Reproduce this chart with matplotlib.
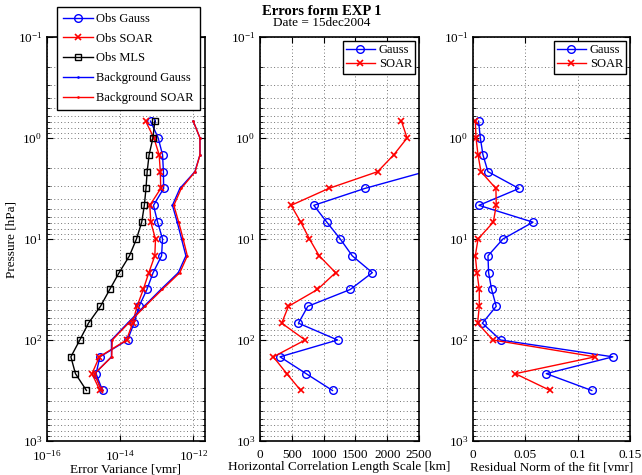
import numpy as np
import matplotlib
matplotlib.use("Agg")
import matplotlib.pyplot as plt
from matplotlib.ticker import FixedLocator, FuncFormatter, LogLocator, NullLocator

plt.rcParams['font.family'] = ['Liberation Serif', 'DejaVu Serif']
plt.rcParams['mathtext.fontset'] = 'stix'
plt.rcParams['font.size'] = 9

# Pressure levels [hPa]
pressure = [0.681, 1.0, 1.468, 2.154, 3.162, 4.642, 6.813, 10.0, 14.68, 21.54,
            31.62, 46.42, 68.13, 100.0, 146.8, 215.4, 316.2]

# Panel 1: error variance [vmr]
obs_gauss = [6.8e-14, 1.1e-13, 1.45e-13, 1.53e-13, 1.55e-13, 8.2e-14, 1.06e-13, 1.45e-13,
             1.36e-13, 8.0e-14, 5.4e-14, 3.3e-14, 2.4e-14, 1.6e-14, 2.8e-15, 2.2e-15, 3.3e-15]
obs_soar = [5.0e-14, 8.4e-14, 1.17e-13, 1.26e-13, 1.29e-13, 6.5e-14, 6.9e-14, 9.3e-14,
            8.9e-14, 6.1e-14, 4.3e-14, 2.9e-14, 2.2e-14, 1.5e-14, 2.7e-15, 1.7e-15, 2.8e-15]
obs_mls = [8.9e-14, 7.9e-14, 6.2e-14, 5.5e-14, 5.1e-14, 4.6e-14, 3.9e-14, 2.8e-14,
           1.8e-14, 9.4e-15, 5.2e-15, 2.9e-15, 1.36e-15, 7.9e-16, 4.5e-16, 6.0e-16, 1.2e-15]
bg_gauss = [1.0e-12, 1.53e-12, 1.53e-12, 1.11e-12, 4.3e-13, 2.7e-13, 3.65e-13, 4.8e-13,
            6.3e-13, 3.9e-13, 1.3e-13, 4.5e-14, 1.6e-14, 5.8e-15, 5.8e-15, 2.0e-15, 3.1e-15]
bg_soar = [1.0e-12, 1.53e-12, 1.53e-12, 1.13e-12, 4.7e-13, 2.95e-13, 4.0e-13, 5.3e-13,
           6.9e-13, 4.3e-13, 1.42e-13, 4.8e-14, 1.7e-14, 6.1e-15, 5.9e-15, 2.0e-15, 3.1e-15]

# Panel 2: horizontal correlation length scale [km]
hcl_gauss = [np.nan, np.nan, np.nan, 2600, 1645, 846, 1051, 1262, 1451, 1766, 1419,
             752, 604, 1219, 315, 725, 1140]
hcl_soar = [2224, 2313, 2103, 1850, 1078, 489, 641, 778, 931, 1188, 904,
            447, 341, 710, 210, 421, 641]

# Panel 3: residual norm of the fit [vmr]
res_gauss = [0.0053, 0.0070, 0.0095, 0.0143, 0.0439, 0.0057, 0.0573, 0.0286, 0.0143,
             0.0149, 0.0178, 0.0222, 0.0089, 0.0263, 0.1336, 0.0700, 0.1135]
res_soar = [0.0022, 0.0029, 0.0048, 0.0076, 0.0219, 0.0222, 0.0194, 0.0048, 0.0022,
            0.0038, 0.0060, 0.0060, 0.0044, 0.0191, 0.1167, 0.0404, 0.0738]

fig = plt.figure(figsize=(6.42, 4.75), dpi=100)
H = 475.0
W = 642.0
bottom = (H - 441) / H
height = 404 / H
ax1 = fig.add_axes([47 / W, bottom, 158 / W, height])
ax2 = fig.add_axes([260 / W, bottom, 159 / W, height])
ax3 = fig.add_axes([473 / W, bottom, 157 / W, height])

lw = 1.0
ms = 5.5
GRID = dict(linestyle=(0, (1, 2.5)), color='0.45', linewidth=0.7)

def style(ax):
    ax.set_yscale('log')
    ax.set_ylim(1000, 0.1)
    ax.yaxis.set_major_locator(FixedLocator([0.1, 1, 10, 100, 1000]))
    ax.yaxis.set_minor_locator(LogLocator(base=10, subs=np.arange(2, 10)))
    ax.tick_params(which='both', direction='in', top=True, right=True, labelsize=9.5)
    ax.tick_params(axis='x', pad=6)
    ax.tick_params(which='major', length=4)
    ax.tick_params(which='minor', length=2)
    ax.grid(True, which='major', axis='both', **GRID)
    ax.grid(True, which='minor', axis='y', **GRID)
    for s in ax.spines.values():
        s.set_linewidth(1.2)
    ax.set_axisbelow(True)

LEG = dict(fancybox=False, edgecolor='black', framealpha=1, fontsize=9,
           handlelength=2.35, handletextpad=0.3)

# Panel 1
ax1.plot(obs_gauss, pressure, '-o', color='blue', mfc='none', ms=ms, lw=lw, label='Obs Gauss')
ax1.plot(obs_soar, pressure, '-x', color='red', ms=ms - 1, lw=lw, mew=1.2, label='Obs SOAR')
ax1.plot(obs_mls, pressure, '-s', color='black', mfc='none', ms=ms - 0.5, lw=lw, label='Obs MLS')
ax1.plot(bg_gauss, pressure, marker='.', color='blue', ms=1.8, lw=lw, linestyle='-', label='Background Gauss')
ax1.plot(bg_soar, pressure, marker='.', color='red', ms=1.8, lw=lw, linestyle='-', label='Background SOAR')
ax1.set_xscale('log')
style(ax1)
ax1.set_xlim(1e-16, 2.1e-12)
ax1.xaxis.set_major_locator(FixedLocator([1e-16, 1e-14, 1e-12]))
ax1.xaxis.set_minor_locator(NullLocator())
ax1.set_xlabel('Error Variance [vmr]', fontsize=9.5, labelpad=0)
ax1.set_ylabel('Pressure [hPa]', fontsize=9.5, labelpad=0)
leg1 = ax1.legend(loc='upper left', bbox_to_anchor=(0.063, 1.075), borderaxespad=0,
                  labelspacing=0.62, borderpad=0.5, **LEG)
leg1.get_frame().set_linewidth(1.0)

# Panel 2
ax2.plot(hcl_gauss, pressure, '-o', color='blue', mfc='none', ms=ms, lw=lw, label='Gauss')
ax2.plot(hcl_soar, pressure, '-x', color='red', ms=ms - 1, lw=lw, mew=1.2, label='SOAR')
style(ax2)
ax2.set_xlim(0, 2500)
ax2.xaxis.set_major_locator(FixedLocator([0, 500, 1000, 1500, 2000, 2500]))
ax2.set_xlabel('Horizontal Correlation Length Scale [km]', fontsize=9.5, labelpad=0)
leg2 = ax2.legend(loc='upper right', borderaxespad=0.3, labelspacing=0.2, borderpad=0.25, **LEG)
leg2.get_frame().set_linewidth(1.0)

# Panel 3
ax3.plot(res_gauss, pressure, '-o', color='blue', mfc='none', ms=ms, lw=lw, label='Gauss')
ax3.plot(res_soar, pressure, '-x', color='red', ms=ms - 1, lw=lw, mew=1.2, label='SOAR')
style(ax3)
ax3.set_xlim(0, 0.15)
ax3.xaxis.set_major_locator(FixedLocator([0, 0.05, 0.1, 0.15]))
ax3.xaxis.set_major_formatter(FuncFormatter(lambda v, p: '%g' % v))
ax3.set_xlabel('Residual Norm of the fit [vmr]', fontsize=9.5, labelpad=0)
leg3 = ax3.legend(loc='upper right', borderaxespad=0.3, labelspacing=0.2, borderpad=0.25, **LEG)
leg3.get_frame().set_linewidth(1.0)

fig.text(322 / W, 1 - 11.5 / H, 'Errors form EXP 1', ha='center', va='center',
         fontsize=10.5, fontweight='bold')
fig.text(322 / W, 1 - 23.5 / H, 'Date = 15dec2004', ha='center', va='center', fontsize=9.5)

fig.savefig('out.png', dpi=100)
